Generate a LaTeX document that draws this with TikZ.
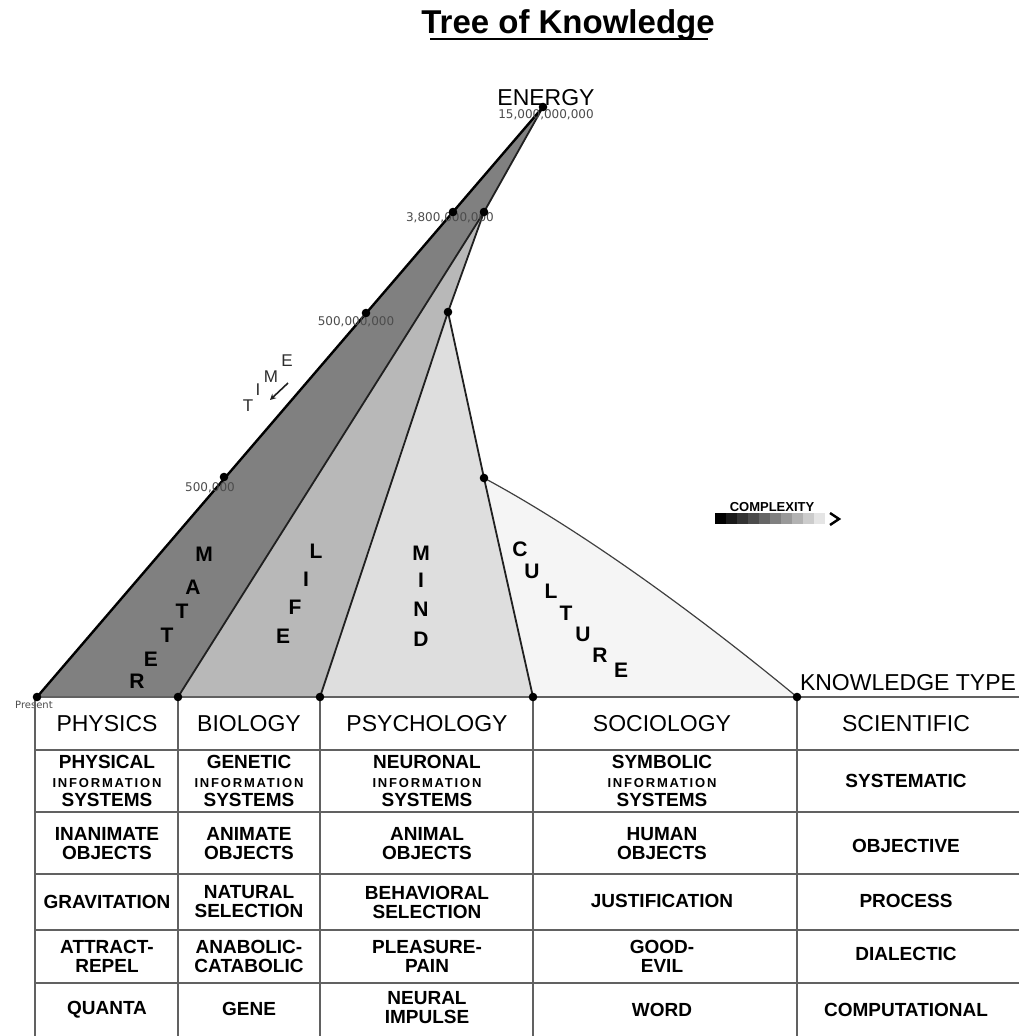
\documentclass[tikz,border=0pt]{standalone}
\usepackage{fontspec}
\setmainfont{Liberation Sans}
\newfontfamily\numfont{DejaVu Sans}
\newfontfamily\infofont{Liberation Sans}[LetterSpace=14]
\usetikzlibrary{arrows.meta}
\definecolor{matterc}{gray}{0.50}
\definecolor{lifec}{gray}{0.72}
\definecolor{mindc}{gray}{0.87}
\definecolor{culturec}{gray}{0.96}
\definecolor{numc}{gray}{0.30}
\definecolor{gridc}{gray}{0.38}
\newcommand{\infoline}{{\infofont\bfseries\fontsize{13}{19}\selectfont INFORMATION}}
\begin{document}
\begin{tikzpicture}[x=1pt,y=-1pt,
  numlabel/.style={font=\numfont\fontsize{12}{14}\selectfont, text=numc, inner sep=0pt},
  bigletter/.style={font=\bfseries\fontsize{21}{21}\selectfont, inner sep=0pt},
  timeletter/.style={font=\fontsize{17}{17}\selectfont, text=gray!35!black, inner sep=0pt},
  headcell/.style={font=\fontsize{23}{25}\selectfont, inner sep=0pt, align=center},
  bodycell/.style={font=\bfseries\fontsize{19}{19}\selectfont, inner sep=0pt, align=center},
  boundary/.style={draw=gray!25!black, line width=1.8pt},
  gridline/.style={draw=gridc, line width=2pt},
  knot/.style={fill=black}
]
\useasboundingbox (0,0) rectangle (1019,1036);

% title
\node[font=\bfseries\fontsize{33}{35}\selectfont, inner sep=0pt, anchor=base] (title) at (568,33) {Tree of Knowledge};
\coordinate (ulA) at (430,39);
\coordinate (ulB) at (708,39);
\draw[line width=2pt] (ulA) -- (ulB);

% key points
\coordinate (apex) at (543,107);
\coordinate (b38L) at (453,212);
\coordinate (b38R) at (484,212);
\coordinate (b500m) at (366,313);
\coordinate (mindtop) at (448,312);
\coordinate (b500k) at (224,477);
\coordinate (culttop) at (484,478);
\coordinate (p1) at (37,697);
\coordinate (p2) at (178,697);
\coordinate (p3) at (320,697);
\coordinate (p4) at (533,697);
\coordinate (p5) at (797,697);

% regions
\fill[culturec] (culttop) .. controls (590,535) and (710,625) .. (p5) -- (p4) -- cycle;
\fill[mindc] (mindtop) -- (culttop) -- (p4) -- (p3) -- cycle;
\fill[lifec] (b38R) -- (mindtop) -- (p3) -- (p2) -- cycle;
\fill[matterc] (apex) -- (p1) -- (p2) -- (b38R) -- cycle;

% boundaries
\draw[draw=gray!50!black, line width=1.2pt] (culttop) .. controls (590,535) and (710,625) .. (p5);
\draw[boundary] (mindtop) -- (culttop) -- (p4);
\draw[boundary] (b38R) -- (mindtop) -- (p3);
\draw[boundary] (b38R) -- (p2);
\draw[boundary] (apex) -- (b38R);
\draw[black, line width=2.4pt] (apex) -- (p1);

% time labels
\node[numlabel] (n15) at (546,115) {15,000,000,000};
\node[numlabel] (n38) at (450,218) {3,800,000,000};
\node[numlabel] (n500m) at (356,322) {500,000,000};
\node[numlabel] (n500k) at (210,488) {500,000};
\node[font=\numfont\fontsize{10}{12}\selectfont, text=numc, inner sep=0pt] (present) at (34,705) {Present};

% table grid
\foreach \yy in {697,750,812,874,930,983} {
  \draw[gridline] (35,\yy) -- (1019,\yy);
}
\foreach \xx in {35,178,320,533,797} {
  \draw[gridline] (\xx,697) -- (\xx,1036);
}

% knots
\foreach \p in {apex,b38L,b38R,b500m,mindtop,b500k,culttop,p1,p2,p3,p4,p5} {
  \fill[knot] (\p) circle (4.3);
}

% ENERGY
\node[font=\fontsize{23}{25}\selectfont, inner sep=0pt] (energy) at (546,98) {ENERGY};

% TIME
\node[timeletter] (tT) at (248,406) {T};
\node[timeletter] (tI) at (258,390) {I};
\node[timeletter] (tM) at (271,377) {M};
\node[timeletter] (tE) at (287,361) {E};
\coordinate (tarA) at (288,383);
\coordinate (tarB) at (270,400);
\draw[gray!25!black, line width=1.6pt, -{Stealth[length=6pt,width=6pt]}] (tarA) -- (tarB);

% MATTER
\node[bigletter] (mM) at (204,554) {M};
\node[bigletter] (mA) at (193,587) {A};
\node[bigletter] (mT1) at (182,611) {T};
\node[bigletter] (mT2) at (167,635) {T};
\node[bigletter] (mE) at (151,659) {E};
\node[bigletter] (mR) at (137,681) {R};
% LIFE
\node[bigletter] (lL) at (316,551) {L};
\node[bigletter] (lI) at (306,579) {I};
\node[bigletter] (lF) at (295,607) {F};
\node[bigletter] (lE) at (283,636) {E};
% MIND
\node[bigletter] (dM) at (421,553) {M};
\node[bigletter] (dI) at (421,580) {I};
\node[bigletter] (dN) at (421,609) {N};
\node[bigletter] (dD) at (421,639) {D};
% CULTURE
\node[bigletter] (cC) at (520,549) {C};
\node[bigletter] (cU1) at (532,571) {U};
\node[bigletter] (cL) at (551,591) {L};
\node[bigletter] (cT) at (566,613) {T};
\node[bigletter] (cU2) at (583,634) {U};
\node[bigletter] (cR) at (600,655) {R};
\node[bigletter] (cE) at (621,670) {E};

% COMPLEXITY
\node[font=\bfseries\fontsize{13}{14}\selectfont, inner sep=0pt] (complexity) at (772,507) {COMPLEXITY};
\foreach \i in {0,...,9} {
  \pgfmathsetmacro{\lev}{\i*10}
  \fill[white!\lev!black] (715+\i*11,513) rectangle (726+\i*11,524);
}
\coordinate (chA) at (830,513);
\coordinate (chB) at (839,519);
\coordinate (chC) at (830,525);
\draw[line width=2.4pt] (chA) -- (chB) -- (chC);

% KNOWLEDGE TYPE
\node[font=\fontsize{23}{25}\selectfont, inner sep=0pt] (ktype) at (908,683) {KNOWLEDGE TYPE};

% table header
\node[headcell] (h1) at (107,724) {PHYSICS};
\node[headcell] (h2) at (249,724) {BIOLOGY};
\node[headcell] (h3) at (427,724) {PSYCHOLOGY};
\node[headcell] (h4) at (662,724) {SOCIOLOGY};
\node[headcell] (h5) at (906,724) {SCIENTIFIC};

% row 2
\node[bodycell] (r2c1) at (107,781) {PHYSICAL\\\infoline\\SYSTEMS};
\node[bodycell] (r2c2) at (249,781) {GENETIC\\\infoline\\SYSTEMS};
\node[bodycell] (r2c3) at (427,781) {NEURONAL\\\infoline\\SYSTEMS};
\node[bodycell] (r2c4) at (662,781) {SYMBOLIC\\\infoline\\SYSTEMS};
\node[bodycell] (r2c5) at (906,781) {SYSTEMATIC};
% row 3
\node[bodycell] (r3c1) at (107,844) {INANIMATE\\OBJECTS};
\node[bodycell] (r3c2) at (249,844) {ANIMATE\\OBJECTS};
\node[bodycell] (r3c3) at (427,844) {ANIMAL\\OBJECTS};
\node[bodycell] (r3c4) at (662,844) {HUMAN\\OBJECTS};
\node[bodycell] (r3c5) at (906,846) {OBJECTIVE};
% row 4
\node[bodycell] (r4c1) at (107,902) {GRAVITATION};
\node[bodycell] (r4c2) at (249,902) {NATURAL\\SELECTION};
\node[bodycell] (r4c3) at (427,902) {BEHAVIORAL\\SELECTION};
\node[bodycell] (r4c4) at (662,901) {JUSTIFICATION};
\node[bodycell] (r4c5) at (906,901) {PROCESS};
% row 5
\node[bodycell] (r5c1) at (107,956) {ATTRACT-\\REPEL};
\node[bodycell] (r5c2) at (249,956) {ANABOLIC-\\CATABOLIC};
\node[bodycell] (r5c3) at (427,956) {PLEASURE-\\PAIN};
\node[bodycell] (r5c4) at (662,956) {GOOD-\\EVIL};
\node[bodycell] (r5c5) at (906,954) {DIALECTIC};
% row 6
\node[bodycell] (r6c1) at (107,1010) {QUANTA};
\node[bodycell] (r6c2) at (249,1009) {GENE};
\node[bodycell] (r6c3) at (427,1008) {NEURAL\\IMPULSE};
\node[bodycell] (r6c4) at (662,1010) {WORD};
\node[bodycell] (r6c5) at (906,1010) {COMPUTATIONAL};
\end{tikzpicture}
\end{document}
